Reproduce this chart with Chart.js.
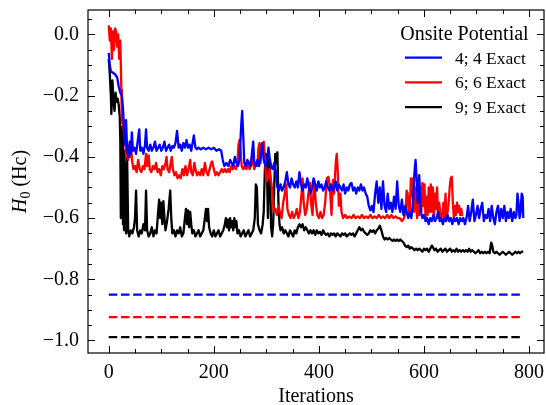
<!DOCTYPE html>
<html><head><meta charset="utf-8">
<script src="https://cdn.jsdelivr.net/npm/chart.js@4"></script>
<style>html,body{margin:0;padding:0;background:#fff}#wrap{width:546px;height:405px}</style>
</head><body><div id="wrap"><canvas id="c" width="546" height="405"></canvas></div>
<script>
// ---- data ----
const iterBlue = [0,2,4,8,12,16,19,22,25,27,29,31,33,35,38,40,42,44,46,49,52,55,58,60,63,66,69,71,73,76,79,82,85,88,91,94,97,100,103,106,109,112,115,118,121,124,127,130,133,136,139,142,145,148,151,154,157,160,162,165,168,171,175,180,185,190,195,200,205,210,214,217,220,224,228,231,234,237,240,243,246,249,252,254,256,258,261,264,267,270,273,275,277,280,283,286,289,292,295,298,301,304,306,309,312,315,318,321,324,327,330,333,336,339,342,345,348,351,354,357,360,363,366,369,372,375,378,381,384,387,390,393,396,399,402,405,408,411,414,417,420,423,426,429,432,435,438,441,444,447,450,453,456,459,462,465,468,471,474,477,480,483,486,489,492,495,498,501,504,507,510,513,516,519,522,525,528,531,534,537,540,543,546,549,552,555,558,561,564,567,570,573,576,579,582,584,586,588,591,594,597,600,603,606,609,612,615,618,621,624,627,630,633,636,639,642,645,648,651,654,657,660,663,666,669,672,675,678,681,684,687,690,693,696,699,702,705,708,711,714,717,720,723,726,729,732,735,738,741,744,747,750,753,756,759,762,765,768,771,774,776,778,780,782,784,786,788,789];
const h0Blue = [-0.06,-0.10,-0.12,-0.125,-0.13,-0.14,-0.17,-0.19,-0.20,-0.24,-0.30,-0.36,-0.28,-0.38,-0.40,-0.35,-0.39,-0.32,-0.38,-0.37,-0.39,-0.35,-0.31,-0.38,-0.37,-0.39,-0.36,-0.31,-0.37,-0.38,-0.36,-0.38,-0.37,-0.35,-0.38,-0.37,-0.36,-0.38,-0.37,-0.35,-0.38,-0.37,-0.36,-0.38,-0.365,-0.37,-0.355,-0.315,-0.37,-0.36,-0.38,-0.355,-0.37,-0.345,-0.37,-0.36,-0.38,-0.35,-0.33,-0.37,-0.375,-0.37,-0.375,-0.37,-0.375,-0.37,-0.375,-0.37,-0.38,-0.375,-0.38,-0.41,-0.43,-0.42,-0.43,-0.41,-0.42,-0.43,-0.40,-0.42,-0.43,-0.41,-0.30,-0.25,-0.33,-0.42,-0.43,-0.41,-0.42,-0.43,-0.38,-0.35,-0.42,-0.43,-0.41,-0.43,-0.40,-0.355,-0.41,-0.43,-0.42,-0.37,-0.40,-0.43,-0.44,-0.42,-0.45,-0.50,-0.51,-0.49,-0.51,-0.50,-0.48,-0.45,-0.49,-0.50,-0.47,-0.49,-0.50,-0.48,-0.50,-0.45,-0.49,-0.51,-0.49,-0.50,-0.47,-0.50,-0.52,-0.50,-0.47,-0.49,-0.51,-0.48,-0.50,-0.49,-0.51,-0.50,-0.48,-0.50,-0.51,-0.49,-0.51,-0.50,-0.48,-0.51,-0.49,-0.50,-0.51,-0.49,-0.52,-0.50,-0.51,-0.49,-0.485,-0.51,-0.50,-0.52,-0.50,-0.51,-0.49,-0.51,-0.50,-0.52,-0.53,-0.56,-0.575,-0.56,-0.58,-0.52,-0.48,-0.55,-0.50,-0.57,-0.48,-0.56,-0.58,-0.52,-0.57,-0.55,-0.58,-0.53,-0.57,-0.48,-0.56,-0.58,-0.54,-0.59,-0.56,-0.58,-0.60,-0.58,-0.60,-0.55,-0.45,-0.41,-0.47,-0.55,-0.46,-0.58,-0.60,-0.59,-0.61,-0.60,-0.62,-0.60,-0.61,-0.59,-0.61,-0.60,-0.58,-0.61,-0.60,-0.62,-0.60,-0.61,-0.59,-0.61,-0.60,-0.62,-0.60,-0.61,-0.60,-0.62,-0.60,-0.61,-0.60,-0.62,-0.60,-0.56,-0.61,-0.58,-0.54,-0.61,-0.59,-0.56,-0.60,-0.57,-0.55,-0.61,-0.59,-0.60,-0.57,-0.61,-0.56,-0.60,-0.62,-0.58,-0.56,-0.61,-0.57,-0.60,-0.56,-0.61,-0.58,-0.60,-0.57,-0.61,-0.58,-0.60,-0.59,-0.52,-0.55,-0.60,-0.58,-0.52,-0.53,-0.60];

const iterRed = [0,2,4,6,8,10,12,14,16,18,20,22,24,25,27,29,31,33,35,37,39,41,43,45,47,50,53,56,59,62,65,68,71,73,76,78,81,84,87,90,93,96,99,102,105,108,110,112,115,118,120,122,125,128,131,134,137,140,143,146,149,152,155,157,160,163,165,168,171,174,177,180,183,186,189,192,195,197,200,203,206,209,212,215,218,221,224,227,230,233,236,239,242,245,247,249,251,253,256,259,262,265,268,271,274,277,280,283,285,287,289,291,293,295,297,300,303,306,309,312,314,317,320,323,326,329,332,335,338,340,343,346,349,352,355,358,361,364,367,369,371,374,377,380,383,385,388,390,392,394,397,400,403,406,409,412,415,418,421,424,427,429,432,434,436,438,441,443,446,450,454,458,462,466,470,474,478,482,486,490,494,498,502,506,510,514,518,522,526,530,534,538,542,546,550,554,558,562,565,567,569,571,573,575,577,579,581,583,585,587,589,591,593,595,597,599,601,603,605,607,609,611,613,615,617,619,621,623,625,627,629,631,633,635,637,639,641,643,645,647,649,651,653,655,657,659,661,663,665,667,669,671,673,675];
const h0Red = [0.03,-0.02,0.02,-0.08,0.01,-0.05,0.02,0.01,-0.04,0.00,-0.08,-0.02,-0.18,-0.29,-0.28,-0.32,-0.34,-0.40,-0.37,-0.41,-0.36,-0.40,-0.38,-0.42,-0.44,-0.43,-0.45,-0.41,-0.44,-0.45,-0.43,-0.44,-0.39,-0.43,-0.395,-0.44,-0.45,-0.43,-0.44,-0.42,-0.45,-0.44,-0.46,-0.43,-0.44,-0.42,-0.40,-0.44,-0.45,-0.42,-0.40,-0.44,-0.46,-0.45,-0.47,-0.46,-0.47,-0.44,-0.46,-0.43,-0.46,-0.44,-0.41,-0.45,-0.46,-0.42,-0.44,-0.46,-0.45,-0.46,-0.44,-0.46,-0.42,-0.45,-0.46,-0.44,-0.42,-0.415,-0.44,-0.46,-0.45,-0.46,-0.45,-0.44,-0.45,-0.44,-0.45,-0.44,-0.45,-0.43,-0.44,-0.43,-0.44,-0.42,-0.36,-0.345,-0.38,-0.43,-0.44,-0.43,-0.44,-0.42,-0.44,-0.43,-0.40,-0.44,-0.42,-0.43,-0.37,-0.355,-0.42,-0.36,-0.38,-0.35,-0.40,-0.48,-0.47,-0.44,-0.48,-0.52,-0.58,-0.57,-0.59,-0.56,-0.58,-0.60,-0.55,-0.52,-0.49,-0.57,-0.59,-0.60,-0.58,-0.60,-0.59,-0.57,-0.60,-0.58,-0.52,-0.47,-0.55,-0.59,-0.57,-0.52,-0.485,-0.55,-0.59,-0.50,-0.49,-0.55,-0.59,-0.60,-0.58,-0.60,-0.59,-0.55,-0.47,-0.465,-0.50,-0.59,-0.475,-0.52,-0.42,-0.39,-0.45,-0.56,-0.52,-0.58,-0.60,-0.59,-0.60,-0.595,-0.60,-0.59,-0.60,-0.595,-0.60,-0.59,-0.60,-0.595,-0.60,-0.59,-0.60,-0.595,-0.60,-0.59,-0.60,-0.595,-0.60,-0.59,-0.60,-0.59,-0.60,-0.595,-0.60,-0.60,-0.61,-0.60,-0.58,-0.51,-0.52,-0.59,-0.58,-0.47,-0.53,-0.47,-0.58,-0.50,-0.56,-0.60,-0.52,-0.59,-0.50,-0.58,-0.485,-0.56,-0.49,-0.60,-0.53,-0.59,-0.50,-0.58,-0.49,-0.58,-0.50,-0.60,-0.52,-0.57,-0.50,-0.60,-0.55,-0.58,-0.60,-0.59,-0.55,-0.60,-0.52,-0.60,-0.58,-0.55,-0.50,-0.47,-0.465,-0.55,-0.60,-0.56,-0.59,-0.55,-0.58,-0.56,-0.59,-0.57,-0.59,-0.59];

const iterBlack = [0,2,4,5,7,9,11,13,15,17,19,21,22,23,24,25,26,27,28,29,30,31,32,33,35,37,39,42,45,48,50,52,54,57,60,63,66,69,71,73,76,79,82,85,88,91,94,96,98,100,102,104,106,108,111,114,117,119,121,124,127,130,133,136,139,142,145,147,149,151,153,155,157,159,162,165,168,171,174,177,180,183,185,187,189,191,194,197,200,203,206,209,212,215,218,221,223,225,227,229,231,233,235,237,239,241,243,245,248,251,254,257,260,263,266,269,272,275,278,280,282,284,287,290,293,295,297,299,301,303,305,307,309,311,313,315,317,319,321,323,325,327,330,333,336,339,342,345,348,351,354,357,360,363,366,369,372,375,378,381,384,387,390,393,396,399,402,405,408,411,414,417,420,423,426,429,432,435,438,441,444,447,450,453,456,459,462,465,468,471,474,477,480,483,486,489,492,495,498,501,504,507,510,513,516,519,522,525,528,531,534,537,540,543,546,549,552,555,558,561,564,567,570,573,576,579,582,585,588,591,594,597,600,603,606,609,612,615,617,620,623,626,629,632,635,638,641,644,647,650,653,656,659,662,665,668,671,674,677,680,683,686,689,692,695,698,701,704,707,710,713,716,719,722,725,728,730,732,735,738,741,744,747,750,753,756,759,762,765,768,771,774,777,780,783,786,789];
const h0Black = [-0.08,-0.13,-0.20,-0.26,-0.15,-0.22,-0.25,-0.19,-0.22,-0.21,-0.23,-0.27,-0.35,-0.60,-0.40,-0.55,-0.30,-0.62,-0.45,-0.64,-0.38,-0.63,-0.42,-0.65,-0.40,-0.64,-0.66,-0.64,-0.65,-0.63,-0.60,-0.51,-0.64,-0.66,-0.64,-0.65,-0.62,-0.64,-0.51,-0.64,-0.66,-0.65,-0.63,-0.66,-0.64,-0.65,-0.58,-0.54,-0.60,-0.55,-0.62,-0.545,-0.60,-0.64,-0.61,-0.57,-0.51,-0.60,-0.65,-0.64,-0.66,-0.64,-0.65,-0.63,-0.66,-0.65,-0.60,-0.57,-0.62,-0.575,-0.63,-0.58,-0.62,-0.65,-0.64,-0.66,-0.65,-0.64,-0.66,-0.65,-0.64,-0.60,-0.57,-0.61,-0.57,-0.63,-0.65,-0.66,-0.64,-0.66,-0.65,-0.64,-0.66,-0.65,-0.64,-0.62,-0.60,-0.63,-0.605,-0.64,-0.60,-0.63,-0.61,-0.64,-0.60,-0.63,-0.61,-0.65,-0.64,-0.66,-0.65,-0.64,-0.66,-0.65,-0.64,-0.66,-0.65,-0.64,-0.60,-0.49,-0.50,-0.62,-0.64,-0.65,-0.62,-0.58,-0.45,-0.39,-0.43,-0.60,-0.40,-0.45,-0.63,-0.66,-0.62,-0.50,-0.39,-0.42,-0.385,-0.55,-0.62,-0.64,-0.63,-0.65,-0.64,-0.65,-0.66,-0.64,-0.65,-0.66,-0.64,-0.65,-0.63,-0.62,-0.63,-0.62,-0.64,-0.63,-0.64,-0.65,-0.64,-0.65,-0.64,-0.655,-0.64,-0.65,-0.645,-0.655,-0.64,-0.65,-0.655,-0.65,-0.66,-0.65,-0.655,-0.65,-0.66,-0.65,-0.655,-0.66,-0.65,-0.655,-0.65,-0.66,-0.655,-0.65,-0.655,-0.65,-0.66,-0.65,-0.64,-0.63,-0.64,-0.635,-0.645,-0.65,-0.655,-0.65,-0.64,-0.645,-0.64,-0.65,-0.64,-0.635,-0.625,-0.64,-0.66,-0.67,-0.665,-0.67,-0.665,-0.67,-0.675,-0.67,-0.675,-0.67,-0.675,-0.67,-0.675,-0.68,-0.69,-0.695,-0.69,-0.70,-0.695,-0.70,-0.705,-0.70,-0.705,-0.70,-0.705,-0.71,-0.70,-0.705,-0.70,-0.71,-0.70,-0.69,-0.695,-0.705,-0.70,-0.71,-0.705,-0.70,-0.71,-0.705,-0.70,-0.71,-0.705,-0.70,-0.71,-0.705,-0.71,-0.70,-0.71,-0.705,-0.71,-0.705,-0.71,-0.705,-0.71,-0.70,-0.71,-0.705,-0.71,-0.715,-0.71,-0.705,-0.715,-0.71,-0.715,-0.71,-0.715,-0.71,-0.715,-0.68,-0.69,-0.71,-0.715,-0.71,-0.715,-0.72,-0.715,-0.71,-0.715,-0.72,-0.715,-0.71,-0.715,-0.72,-0.715,-0.71,-0.715,-0.71,-0.715,-0.71,-0.71];

const exactIters = [0, 789];
const exactBlue = -0.850, exactRed = -0.924, exactBlack = -0.989;
const seriesLabels = ['4; 4 Exact', '6; 6 Exact', '9; 9 Exact'];
const legendTitle = 'Onsite Potential';
const xTicks = [0, 200, 400, 600, 800];
const yTicks = [0.0, -0.2, -0.4, -0.6, -0.8, -1.0];
const xLabel = 'Iterations';

// ---- build ----
const pts = (xs, ys) => xs.map((x, i) => ({x, y: ys[i]}));
const flat = (xs, v) => xs.map(x => ({x, y: v}));
const FONT = "'Liberation Serif', 'Times New Roman', serif";
const colors = ['#0000ff', '#ff0000', '#000000'];

const solid = (lbl, data, c) => ({label: lbl, data, borderColor: c, borderWidth: 2.3, pointRadius: 0, tension: 0, fill: false, borderJoinStyle: 'round'});
const dashed = (data, c) => ({label: '', data, borderColor: c, borderWidth: 2.2, pointRadius: 0, borderDash: [8.5, 3.7], fill: false});

const frameTicks = {
  id: 'frameTicks',
  afterDatasetsDraw(chart) {
    const {ctx, chartArea: a, scales: {x, y}} = chart;
    ctx.save();
    ctx.strokeStyle = '#000'; ctx.lineWidth = 1;
    ctx.beginPath();
    const maj = 7, min = 4;
    const vline = (px, len) => { ctx.moveTo(px, a.bottom); ctx.lineTo(px, a.bottom - len); ctx.moveTo(px, a.top); ctx.lineTo(px, a.top + len); };
    const hline = (py, len) => { ctx.moveTo(a.left, py); ctx.lineTo(a.left + len, py); ctx.moveTo(a.right, py); ctx.lineTo(a.right - len, py); };
    for (let v = 0; v <= x.max; v += 50) { const px = Math.round(x.getPixelForValue(v)) + 0.5; vline(px, xTicks.includes(v) ? maj : min); }
    for (let k = Math.ceil(y.min / 0.05); k * 0.05 <= y.max; k++) {
      const v = k * 0.05; const py = Math.round(y.getPixelForValue(v)) + 0.5;
      hline(py, (k % 4 === 0) ? maj : min);
    }
    ctx.stroke();
    ctx.lineWidth = 1.2;
    ctx.strokeRect(a.left, a.top, a.right - a.left, a.bottom - a.top);
    ctx.restore();
  },
  afterDraw(chart) {
    const {ctx, chartArea: a} = chart;
    ctx.save();
    ctx.fillStyle = '#000';
    // x label
    ctx.font = "20px " + FONT; ctx.textAlign = 'center'; ctx.textBaseline = 'alphabetic';
    ctx.fillText(xLabel, (a.left + a.right) / 2, 402);
    // y label: italic H, subscript 0, (Hc)
    ctx.translate(25.5, (a.top + a.bottom) / 2);
    ctx.rotate(-Math.PI / 2);
    ctx.textAlign = 'left';
    ctx.font = "italic 20px " + FONT; const wH = ctx.measureText('H').width;
    ctx.font = "14px " + FONT; const w0 = ctx.measureText('0').width;
    ctx.font = "20px " + FONT; const wR = ctx.measureText(' (Hc)').width;
    let sx = -(wH + w0 + wR) / 2;
    ctx.font = "italic 20px " + FONT; ctx.fillText('H', sx, 0); sx += wH;
    ctx.font = "14px " + FONT; ctx.fillText('0', sx, 4); sx += w0;
    ctx.font = "20px " + FONT; ctx.fillText(' (Hc)', sx, 0);
    ctx.restore();
    // legend
    ctx.save();
    ctx.fillStyle = '#000';
    ctx.font = "20px " + FONT; ctx.textAlign = 'center'; ctx.textBaseline = 'alphabetic';
    ctx.fillText(legendTitle, 464.5, 40);
    ctx.font = "17.5px " + FONT; ctx.textAlign = 'left';
    seriesLabels.forEach((s, i) => {
      const cy = 57.7 + i * 24.7;
      ctx.strokeStyle = colors[i]; ctx.lineWidth = 2.3;
      ctx.beginPath(); ctx.moveTo(405, cy); ctx.lineTo(442, cy); ctx.stroke();
      ctx.fillText(s, 455, cy + 5.8);
    });
    ctx.restore();
  }
};

new Chart(document.getElementById('c'), {
  type: 'line',
  data: {
    datasets: [
      solid(seriesLabels[0], pts(iterBlue, h0Blue), colors[0]),
      solid(seriesLabels[1], pts(iterRed, h0Red), colors[1]),
      solid(seriesLabels[2], pts(iterBlack, h0Black), colors[2]),
      dashed(flat(exactIters, exactBlue), colors[0]),
      dashed(flat(exactIters, exactRed), colors[1]),
      dashed(flat(exactIters, exactBlack), colors[2])
    ]
  },
  options: {
    responsive: false, animation: false, devicePixelRatio: 1,
    layout: {padding: {top: 10, right: 2, left: 0, bottom: 0}},
    plugins: {legend: {display: false}, tooltip: {enabled: false}},
    scales: {
      x: {
        type: 'linear', min: -39.5, max: 828.5,
        afterFit: s => { s.height = 52; s.paddingLeft = 0; s.paddingRight = 0; },
        afterBuildTicks: s => { s.ticks = xTicks.map(v => ({value: v})); },
        grid: {display: false, drawTicks: false}, border: {display: false},
        ticks: {color: '#000', font: {family: FONT, size: 20}, padding: 8, maxRotation: 0, autoSkip: false, callback: v => String(v)}
      },
      y: {
        type: 'linear', min: -1.041, max: 0.08,
        afterFit: s => { s.width = 88; s.paddingTop = 0; s.paddingBottom = 0; },
        afterBuildTicks: s => { s.ticks = yTicks.map(v => ({value: v})); },
        grid: {display: false, drawTicks: false}, border: {display: false},
        ticks: {color: '#000', font: {family: FONT, size: 20}, padding: 9, autoSkip: false,
          callback: v => (Math.abs(v) < 1e-9 ? '0.0' : (v < 0 ? '\u2212' : '') + Math.abs(v).toFixed(1))}
      }
    }
  },
  plugins: [frameTicks]
});
</script></body></html>
